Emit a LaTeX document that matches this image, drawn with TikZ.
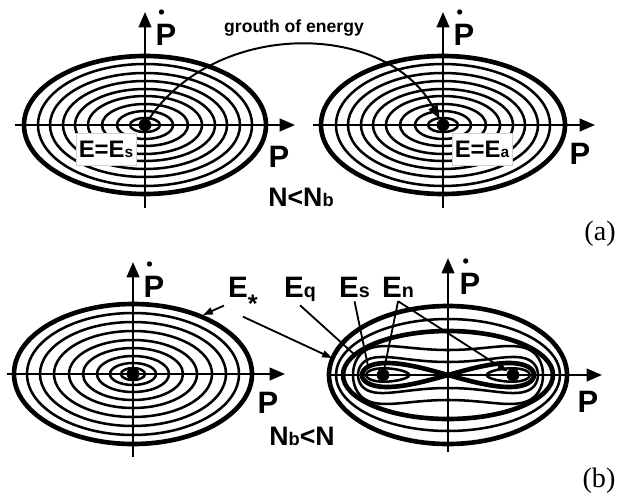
\documentclass[tikz,border=0pt]{standalone}
\usepackage{fontspec}
\setmainfont{Liberation Sans}
\newfontfamily\capfont{Liberation Serif}
\usetikzlibrary{arrows.meta}
\newcommand{\pdot}{\rlap{\hspace{2pt}\raisebox{18.7pt}{\fontsize{13}{13}\selectfont\textbullet}}P}
\newcommand{\idx}[2][14]{{\fontsize{#1}{#1}\selectfont #2}}

\begin{document}
\begin{tikzpicture}[x=0.025cm, y=-0.025cm,
  ring/.style={line width=1.8pt},
  rim/.style={line width=3.3pt},
  axis/.style={line width=1.7pt, -{Triangle[length=11pt, width=9pt]}},
  orb/.style={circle, fill, inner sep=0pt, minimum size=0.32cm},
  lbl/.style={font=\fontsize{21}{21}\selectfont\bfseries, inner sep=0pt, outer sep=3pt},
  axl/.style={lbl, font=\fontsize{22}{22}\selectfont\bfseries},
  tag/.style={draw=gray!35, fill=white, font=\fontsize{17}{17}\selectfont\bfseries,
    inner sep=2pt, minimum width=1.5cm, minimum height=0.8cm},
  ptr/.style={line width=1.3pt},
  tip/.style={ptr, -{Triangle[length=7pt, width=5pt]}},
  flow/.style={line width=1.4pt, -{Triangle[length=10pt, width=7pt]}},
  panel/.style={font=\capfont\fontsize{20}{20}\selectfont, inner sep=0pt},
]
\useasboundingbox (0,0) rectangle (630,500);
\coordinate (o1) at (145,125);
\coordinate (o2) at (443,125);
\coordinate (o3) at (133,374);
\coordinate (o4) at (448,375);

% (a) two families of ellipses
\foreach \rx/\ry in {15/7,28/14,43/21,57/29,70/36,82/44,95/52,107/61} {
  \draw[ring] (o1) ellipse [x radius=\rx, y radius=\ry];
  \draw[ring] (o2) ellipse [x radius=\rx, y radius=\ry];
}
\draw[rim] (o1) ellipse [x radius=121, y radius=69];
\draw[rim] (o2) ellipse [x radius=122, y radius=69];

% (b) left: ellipses only
\foreach \rx/\ry in {12/6,23/11,36/18,50/26,64/34,79/43,93/52,106/61}
  \draw[ring] (o3) ellipse [x radius=\rx, y radius=\ry];
\draw[rim] (o3) ellipse [x radius=119, y radius=70];

% (b) right: outer ovals, figure eight and loops round the two centres
\draw[rim] (o4) ellipse [x radius=119, y radius=69];
\draw[ring] (o4) ellipse [x radius=112, y radius=56];
\draw[rim] (o4) ellipse [x radius=105, y radius=44];
\draw[ring, shift={(o4)}] plot[domain=0:360, samples=150, smooth]
  ({95*cos(\x)}, {(25+16.5*cos(\x)*cos(\x))*sin(\x)*sqrt(1+cos(\x)*cos(\x))}) -- cycle;
\draw[ring, shift={(o4)}] plot[domain=0:360, samples=150, smooth]
  ({90*cos(\x)}, {(13+15.6*cos(\x)*cos(\x))*sin(\x)*sqrt(1+cos(\x)*cos(\x))}) -- cycle;
\draw[rim, shift={(o4)}] plot[domain=0:360, samples=150, smooth]
  ({86*sin(\x)}, {24*sin(\x)*cos(\x)}) -- cycle;
\draw[ring, shift={(o4)}] plot[domain=0:360, samples=80, smooth]
  ({64*sqrt(1+0.632*sin(\x))}, {6.7*cos(\x)}) -- cycle;
\draw[ring, shift={(o4)}] plot[domain=0:360, samples=80, smooth]
  ({-64*sqrt(1+0.632*sin(\x))}, {6.7*cos(\x)}) -- cycle;

% axes
\draw[axis] (o1) ++(-130,0) -- ++(280,0);
\draw[axis] (o1) ++(0,83) -- ++(0,-196);
\draw[axis] (o2) ++(-130,0) -- ++(282,0);
\draw[axis] (o2) ++(0,83) -- ++(0,-196);
\draw[axis] (o3) ++(-126,0) -- ++(278,0);
\draw[axis] (o3) ++(0,83) -- ++(0,-195);
\draw[axis] (o4) ++(-120,0) -- ++(274,0);
\draw[axis] (o4) ++(0,77) -- ++(0,-194);

\node[orb] (dotA) at (o1) {};
\node[orb] (dotB) at (o2) {};
\node[orb] (dotC) at (o3) {};
\node[orb] (dotL) at (383,375) {};
\node[orb] (dotR) at (513,375) {};

\node[axl, anchor=base] (ya) at (166,45) {\pdot};
\node[axl, anchor=base] (yb) at (464,45) {\pdot};
\node[axl, anchor=base] (yc) at (154,297) {\pdot};
\node[axl, anchor=base] (yd) at (470,294) {\pdot};
\node[axl, anchor=base] (xa) at (279,167) {P};
\node[axl, anchor=base] (xb) at (580,164) {P};
\node[axl, anchor=base] (xc) at (268,413) {P};
\node[axl, anchor=base] (xd) at (588,412) {P};

\node[tag] (es1) at (106,149) {E=E\idx[11]{s}};
\node[tag] (ea1) at (482,149) {E=E\idx[11]{a}};
\node[font=\fontsize{12.5}{12.5}\selectfont\bfseries, anchor=base] (grow) at (294,32) {grouth of energy};
\draw[flow] (dotA) .. controls (215,20) and (385,20) .. (dotB);

\node[lbl, font=\fontsize{19}{19}\selectfont\bfseries, anchor=base] (nlow) at (301,206) {N<N\idx[13]{b}};
\node[lbl, font=\fontsize{19}{19}\selectfont\bfseries, anchor=base] (nhigh) at (302,445) {N\idx[13]{b}<N};

\node[lbl, anchor=base west] (estar) at (224,297) {E\raisebox{-11pt}{\fontsize{18}{18}\selectfont *}};
\node[lbl, anchor=base west] (eq) at (280,297) {E\idx{q}};
\node[lbl, anchor=base west] (es) at (335,297) {E\idx{s}};
\node[lbl, anchor=base west] (en) at (378,297) {E\idx{n}};
\coordinate (hitA) at (203,315);
\coordinate (hitB) at (332,358);
\coordinate (hitQ) at (355,355);
\coordinate (hitS) at (368,366);
\draw[tip] (estar.-150) -- (hitA);
\draw[tip] (estar.south) -- (hitB);
\draw[ptr] (eq.south) -- (hitQ);
\draw[ptr] (es.south) -- (hitS);
\draw[ptr] (en.south) -- (dotL);
\draw[tip] (en.south) -- (dotR);

\node[panel, anchor=base] (pa) at (600,240) {(a)};
\node[panel, anchor=base] (pb) at (599,487) {(b)};
\end{tikzpicture}
\end{document}
